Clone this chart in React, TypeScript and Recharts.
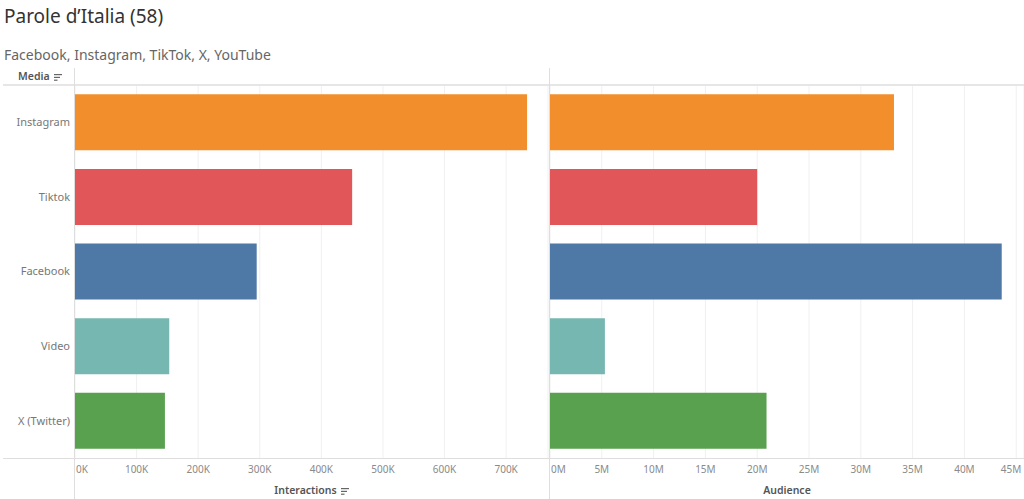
import React from 'react';
import { BarChart, Bar, XAxis, YAxis, CartesianGrid, Cell } from 'recharts';

const media = ['Instagram', 'Tiktok', 'Facebook', 'Video', 'X (Twitter)'];
const interactions = [734000, 450000, 295000, 153000, 146000];
const audience = [33200000, 20000000, 43600000, 5300000, 20900000];
const colors = ['#F28E2B', '#E15759', '#4E79A7', '#76B7B2', '#59A14F'];

const interactionTicks = [0, 100000, 200000, 300000, 400000, 500000, 600000, 700000];
const audienceTicks = [0, 5e6, 10e6, 15e6, 20e6, 25e6, 30e6, 35e6, 40e6, 45e6];

const data = media.map((name, i) => ({ name, interactions: interactions[i], audience: audience[i] }));

const FONT = '"Noto Sans", "Open Sans", sans-serif';
const LINE = '#dedede';

const SortIcon = () => (
  <svg width={8} height={7} style={{ marginLeft: 4, verticalAlign: 'middle' }}>
    <rect x={0} y={0} width={8} height={1.2} fill="#666" />
    <rect x={0} y={2.8} width={6} height={1.2} fill="#666" />
    <rect x={0} y={5.6} width={3.5} height={1.2} fill="#666" />
  </svg>
);

const makeTick = (fmt: (v: number) => string, count: number) => (props: any) => {
  const { x, y, payload, index } = props;
  let anchor: 'start' | 'middle' | 'end' = 'middle';
  let tx = x;
  if (index === 0) { anchor = 'start'; tx = x + 1; }
  if (index === count - 1 && count === 10) { anchor = 'end'; tx = x + 5; }
  return (
    <text x={tx} y={y} dy="0.71em" textAnchor={anchor} fontSize={10} fill="#8a8a8a" fontFamily={FONT}>
      {fmt(payload.value)}
    </text>
  );
};

const CategoryTick = (props: any) => (
  <text x={70} y={props.y} dy="0.355em" textAnchor="end" fontSize={11} fill="#777" fontFamily={FONT}>
    {props.payload.value}
  </text>
);

const axisTitle = (left: number, width: number, text: string, icon: boolean) => (
  <div style={{ position: 'absolute', left, width, top: 483, textAlign: 'center', fontSize: 10.5, fontWeight: 600, color: '#555', fontFamily: FONT }}>
    {text}{icon && <SortIcon />}
  </div>
);

const App: React.FC = () => {
  return (
    <div style={{ position: 'absolute', left: 0, top: 0, width: 1024, height: 499, background: '#fff', overflow: 'hidden', fontFamily: FONT }}>
      <div style={{ position: 'absolute', left: 4, top: 3, fontSize: 19, color: '#333' }}>Parole d’Italia (58)</div>
      <div style={{ position: 'absolute', left: 4, top: 45, fontSize: 14, color: '#666' }}>Facebook, Instagram, TikTok, X, YouTube</div>
      <div style={{ position: 'absolute', left: 18, top: 69, fontSize: 10.5, fontWeight: 600, color: '#555' }}>Media<SortIcon /></div>

      {/* Interactions */}
      <div style={{ position: 'absolute', left: 0, top: 85 }}>
        <BarChart width={549} height={414} data={data} layout="vertical" barCategoryGap="12.5%" margin={{ top: 0, right: 1, bottom: 0, left: 0 }}>
          <CartesianGrid horizontal={false} stroke="#f0f0f0" />
          <XAxis type="number" domain={[0, 768000]} ticks={interactionTicks} axisLine={false} tickLine={false} height={41}
            tick={makeTick((v) => `${v / 1000}K`, interactionTicks.length)} interval={0} />
          <YAxis type="category" dataKey="name" width={75} axisLine={false} tickLine={false} tick={<CategoryTick />} />
          <Bar dataKey="interactions" isAnimationActive={false}>
            {data.map((d, i) => <Cell key={d.name} fill={colors[i]} />)}
          </Bar>
        </BarChart>
      </div>

      {/* Audience */}
      <div style={{ position: 'absolute', left: 550, top: 85 }}>
        <BarChart width={474} height={414} data={data} layout="vertical" barCategoryGap="12.5%" margin={{ top: 0, right: 0, bottom: 0, left: 0 }}>
          <CartesianGrid horizontal={false} stroke="#f0f0f0" />
          <XAxis type="number" domain={[0, 45750000]} ticks={audienceTicks} axisLine={false} tickLine={false} height={41}
            tick={makeTick((v) => `${v / 1e6}M`, audienceTicks.length)} interval={0} />
          <YAxis type="category" dataKey="name" hide />
          <Bar dataKey="audience" isAnimationActive={false}>
            {data.map((d, i) => <Cell key={d.name} fill={colors[i]} />)}
          </Bar>
        </BarChart>
      </div>

      {/* frame lines */}
      <div style={{ position: 'absolute', left: 3, top: 84, width: 1021, height: 2, background: '#e6e6e6' }} />
      <div style={{ position: 'absolute', left: 3, top: 458, width: 1021, height: 1, background: LINE }} />
      <div style={{ position: 'absolute', left: 74, top: 68, width: 1, height: 431, background: LINE }} />
      <div style={{ position: 'absolute', left: 549, top: 68, width: 1, height: 431, background: LINE }} />

      {axisTitle(75, 473, 'Interactions', true)}
      {axisTitle(550, 474, 'Audience', false)}
    </div>
  );
};

export default App;
